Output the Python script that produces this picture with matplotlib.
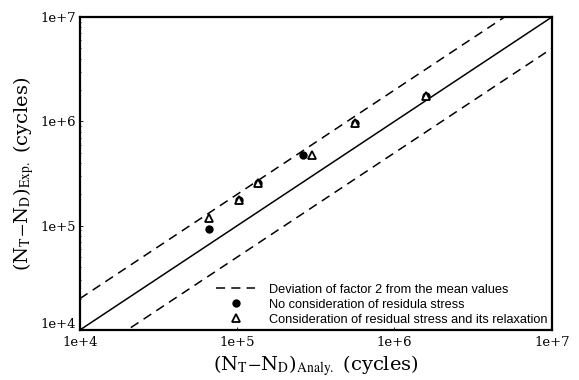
import numpy as np
import matplotlib
matplotlib.use("Agg")
import matplotlib.pyplot as plt
import matplotlib.transforms as mtransforms
from matplotlib.ticker import NullFormatter

plt.rcParams['font.family'] = ['DejaVu Serif']
plt.rcParams['mathtext.fontset'] = 'stix'

# data
analy_no_rs = [6.6e4, 1.02e5, 1.35e5, 2.62e5, 5.6e5, 1.58e6]
exp_no_rs = [9.3e4, 1.76e5, 2.57e5, 4.76e5, 9.7e5, 1.75e6]
analy_rs = [6.6e4, 1.02e5, 1.35e5, 2.98e5, 5.6e5, 1.58e6]
exp_rs = [1.19e5, 1.76e5, 2.57e5, 4.76e5, 9.7e5, 1.75e6]
tick_vals = [1e4, 1e5, 1e6, 1e7]
tick_labels = ["1e+4", "1e+5", "1e+6", "1e+7"]

fig = plt.figure(figsize=(5.79, 3.80), dpi=100)
ax = fig.add_axes([0.138, 0.1316, 0.815, 0.8234])

line = np.array([1e4, 1e7])
ax.plot(line, line, color='black', lw=1.1)
ax.plot(line, 2 * line, color='black', lw=1.1, ls=(0, (6, 4)),
        label="Deviation of factor 2 from the mean values")
ax.plot(line, line / 2, color='black', lw=1.1, ls=(0, (6, 4)))

ax.plot(analy_no_rs, exp_no_rs, 'o', color='black', ms=6, mew=0,
        label="No consideration of residula stress")
ax.plot(analy_rs, exp_rs, '^', mfc='white', mec='black', ms=5.5, mew=1.3,
        label="Consideration of residual stress and its relaxation")

ax.set_xscale('log')
ax.set_yscale('log')
ax.set_xlim(1e4, 1e7)
ax.set_ylim(1e4, 1e7)
ax.set_xticks(tick_vals)
ax.set_xticklabels(tick_labels)
ax.set_yticks(tick_vals)
ax.set_yticklabels(tick_labels)
ax.xaxis.set_minor_formatter(NullFormatter())
ax.yaxis.set_minor_formatter(NullFormatter())
ax.tick_params(which='both', direction='in', labelsize=9.5, length=2, width=0.6, pad=3)
ax.tick_params(axis='x', pad=4)
ax.tick_params(which='minor', length=1)
for s in ax.spines.values():
    s.set_linewidth(1.6)

# lift the lowest y label a little so it clears the x one, as in the scan
low = ax.get_yticklabels()[0]
low.set_transform(low.get_transform() + mtransforms.ScaledTranslation(0, 5 / 72, fig.dpi_scale_trans))

ax.set_xlabel(r"(N$_{\rm T}$$-$N$_{\rm D}$)$_{\rm Analy.}$ (cycles)", fontsize=14, labelpad=3)
ax.set_ylabel(r"(N$_{\rm T}$$-$N$_{\rm D}$)$_{\rm Exp.}$ (cycles)", fontsize=14, labelpad=3)

leg = ax.legend(loc='lower right', bbox_to_anchor=(1.0, 0.0),
                prop={'family': 'Liberation Sans', 'size': 9.2},
                frameon=False, borderaxespad=0.2, handlelength=3.0,
                handletextpad=1.1, labelspacing=0.22, borderpad=0.15)

fig.savefig("out.png", dpi=100)
